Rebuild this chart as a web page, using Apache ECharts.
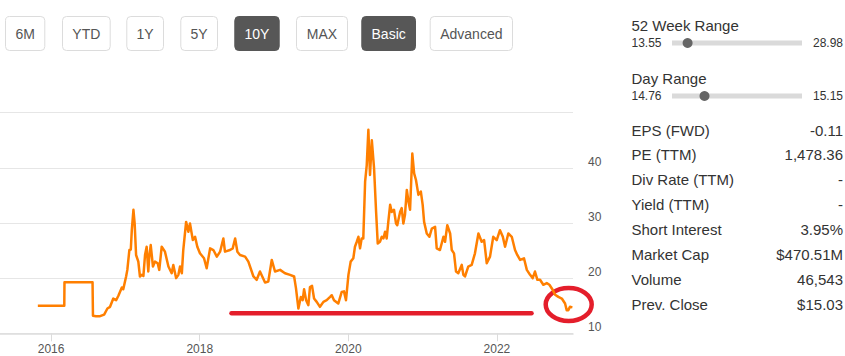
<!DOCTYPE html>
<html>
<head>
<meta charset="utf-8">
<script src="https://cdn.jsdelivr.net/npm/echarts@6/dist/echarts.min.js"></script>
<style>
html,body{margin:0;padding:0;background:#fff;}
#chart{width:845px;height:356px;}
</style>
</head>
<body>
<div id="chart"></div>
<script>
// ---------- data ----------
const dates = [
'2015-10-28','2016-03-06','2016-03-07','2016-07-23','2016-07-25','2016-08-09','2016-08-29','2016-09-18','2016-10-04','2016-10-17',
'2016-11-02','2016-11-16','2016-11-27','2016-12-14','2016-12-21','2017-01-04','2017-01-10','2017-01-20','2017-01-27','2017-02-01',
'2017-02-09','2017-02-15','2017-02-22','2017-03-05','2017-03-13','2017-03-22','2017-03-30','2017-04-07','2017-04-15','2017-04-23',
'2017-04-28','2017-05-05','2017-05-16','2017-05-26','2017-06-08','2017-06-16','2017-06-28','2017-07-14','2017-07-31','2017-08-16',
'2017-08-24','2017-09-07','2017-09-18','2017-09-26','2017-10-05','2017-10-12','2017-10-26','2017-11-06','2017-11-14','2017-11-28',
'2017-12-09','2017-12-20','2018-01-02','2018-01-22','2018-02-04','2018-02-21','2018-03-09','2018-03-26','2018-04-11','2018-04-27',
'2018-05-05','2018-05-30','2018-06-12','2018-06-24','2018-07-05','2018-07-18','2018-08-12','2018-08-28','2018-09-22','2018-10-08',
'2018-10-24','2018-11-18','2018-12-04','2018-12-21','2019-01-06','2019-01-31','2019-02-24','2019-03-21','2019-04-10','2019-04-19',
'2019-05-01','2019-05-13','2019-05-22','2019-05-29','2019-06-08','2019-06-19','2019-06-27','2019-07-07','2019-07-17','2019-07-30',
'2019-08-15','2019-09-01','2019-09-17','2019-10-04','2019-10-12','2019-10-23','2019-11-13','2019-11-30','2019-12-11','2019-12-21',
'2020-01-02','2020-01-13','2020-01-26','2020-02-03','2020-02-12','2020-02-20','2020-02-28','2020-03-07','2020-03-15','2020-03-24',
'2020-04-01','2020-04-09','2020-04-17','2020-04-26','2020-05-07','2020-05-17','2020-05-25','2020-06-05','2020-06-14','2020-06-22',
'2020-06-30','2020-07-08','2020-07-16','2020-07-25','2020-08-02','2020-08-13','2020-08-23','2020-08-29','2020-09-12','2020-09-20',
'2020-09-28','2020-10-06','2020-10-15','2020-10-23','2020-10-31','2020-11-11','2020-11-20','2020-11-29','2020-12-11','2020-12-23',
'2021-01-01','2021-01-08','2021-01-21','2021-02-03','2021-02-15','2021-03-03','2021-03-11','2021-03-27','2021-04-13','2021-04-21',
'2021-05-02','2021-05-16','2021-05-24','2021-06-04','2021-06-14','2021-06-25','2021-07-12','2021-07-20','2021-07-28','2021-08-13',
'2021-08-30','2021-09-15','2021-10-02','2021-10-18','2021-10-30','2021-11-12','2021-11-28','2021-12-14','2021-12-31','2022-01-16',
'2022-01-30','2022-02-10','2022-02-26','2022-03-15','2022-03-31','2022-04-11','2022-04-25','2022-05-14','2022-05-28','2022-06-13',
'2022-06-26','2022-07-07','2022-07-19','2022-08-01','2022-08-17','2022-09-03','2022-09-16','2022-10-02','2022-10-14','2022-10-30',
'2022-11-16','2022-12-02','2022-12-10','2022-12-18','2022-12-26','2023-01-07'
];
const prices = [
15.0,15.0,19.25,19.25,13.2,13.1,13.1,13.4,14.5,14.8,
16.3,16.0,16.8,18.3,18.0,20.3,21.5,25.1,25.2,28.7,
32.4,29.9,24.2,23.0,20.3,20.6,20.4,24.2,25.7,21.2,
23.9,26.0,22.1,23.0,22.7,21.5,25.7,24.8,22.1,20.9,
22.4,20.0,20.6,22.1,20.9,25.1,30.2,28.4,29.9,26.9,
27.5,25.7,24.5,23.6,21.8,25.4,25.1,23.9,24.8,27.2,
24.8,25.1,25.4,27.2,24.8,24.2,23.9,23.0,20.3,19.7,
21.2,19.2,19.4,23.3,21.2,21.5,20.9,20.6,20.3,18.2,
14.5,16.6,16.0,18.0,16.0,15.1,18.4,18.6,16.3,15.7,
14.8,15.7,16.0,16.6,16.9,16.0,15.4,17.5,17.6,16.0,
20.6,23.0,23.6,25.7,26.6,27.5,25.4,27.2,27.2,37.5,
40.5,46.9,38.7,45.0,39.9,32.0,26.3,26.6,27.5,27.2,
28.4,27.2,30.2,33.3,32.0,32.4,29.9,29.6,32.0,32.7,
29.9,31.5,36.0,33.9,32.4,42.6,39.0,37.8,35.1,35.7,
33.3,30.2,28.1,27.5,29.0,29.3,25.4,25.1,27.5,26.6,
29.6,28.1,25.1,24.5,21.2,20.9,22.4,20.6,20.3,22.1,
22.4,24.5,28.1,26.6,26.9,22.7,23.9,27.5,26.9,28.7,
27.5,25.7,28.1,27.5,25.1,24.2,23.3,23.6,21.5,20.6,
20.0,21.2,19.7,19.7,18.8,19.1,18.8,17.9,17.0,16.6,
16.3,15.4,14.2,14.2,14.8,14.7
];
const xTickYears = [2016, 2018, 2020, 2022];
const xRange = ['2015-04-25', '2023-01-10'];
const yTicks = [10, 20, 30, 40, 50];

const buttonLabels = ['6M','YTD','1Y','5Y','10Y','MAX','Basic','Advanced'];
const activeButtons = ['10Y','Basic'];

const rangeTitles = ['52 Week Range','Day Range'];
const rangeLows = ['13.55','14.76'];
const rangeHighs = ['28.98','15.15'];
const rangeKnobFractions = [0.12, 0.25];

const statLabels = ['EPS (FWD)','PE (TTM)','Div Rate (TTM)','Yield (TTM)','Short Interest','Market Cap','Volume','Prev. Close'];
const statValues = ['-0.11','1,478.36','-','-','3.95%','$470.51M','46,543','$15.03'];

// ---------- helpers ----------
function ts(s) { const p = s.split('-').map(Number); return Date.UTC(p[0], p[1] - 1, p[2]); }

// ---------- layout ----------
const FONT = '"Liberation Sans", Arial, sans-serif';
const btnX = [5, 62, 126.3, 180.3, 234.3, 296, 361.3, 429.7];
const btnW = [39.3, 47.7, 36.7, 36.7, 44.4, 51, 53.7, 82.3];

const graphics = [];
buttonLabels.forEach((lab, i) => {
  const active = activeButtons.includes(lab);
  graphics.push({
    type: 'rect', shape: {x: btnX[i] + 0.5, y: 16.5, width: btnW[i], height: 34, r: 4},
    style: {fill: active ? '#575757' : '#fff', stroke: active ? '#575757' : '#dcdcdc', lineWidth: 1}
  });
  graphics.push({
    type: 'text',
    style: {text: lab, x: btnX[i] + btnW[i] / 2 + 0.5, y: 33.5, align: 'center', verticalAlign: 'middle',
      font: '14px ' + FONT, fill: active ? '#fff' : '#555'}
  });
});

const panelL = 631.5, panelR = 843, barL = 672, barR = 802;
rangeTitles.forEach((t, i) => {
  const ty = i === 0 ? 25 : 78.5;
  const vy = i === 0 ? 43 : 96;
  graphics.push({type: 'text', style: {text: t, x: panelL, y: ty, verticalAlign: 'middle', font: '15px ' + FONT, fill: '#333'}});
  graphics.push({type: 'text', style: {text: rangeLows[i], x: panelL, y: vy, verticalAlign: 'middle', font: '12px ' + FONT, fill: '#333'}});
  graphics.push({type: 'text', style: {text: rangeHighs[i], x: panelR, y: vy, align: 'right', verticalAlign: 'middle', font: '12px ' + FONT, fill: '#333'}});
  graphics.push({type: 'rect', shape: {x: barL, y: vy - 2.5, width: barR - barL, height: 5}, style: {fill: '#dadada'}});
  graphics.push({type: 'circle', shape: {cx: barL + (barR - barL) * rangeKnobFractions[i], cy: vy, r: 5}, style: {fill: '#666'}});
});
statLabels.forEach((s, i) => {
  const y = 130 + i * 24.9;
  graphics.push({type: 'text', style: {text: s, x: panelL, y: y, verticalAlign: 'middle', font: '15px ' + FONT, fill: '#333'}});
  graphics.push({type: 'text', style: {text: statValues[i], x: panelR, y: y, align: 'right', verticalAlign: 'middle', font: '15px ' + FONT, fill: '#333'}});
});

// hand-drawn red annotations
graphics.push({type: 'line', shape: {x1: 231.5, y1: 313.3, x2: 531.5, y2: 313.3},
  style: {stroke: '#e41e2b', lineWidth: 4.5, lineCap: 'round'}});
graphics.push({type: 'ellipse', shape: {cx: 568.7, cy: 304.5, rx: 23, ry: 16.5},
  style: {fill: 'none', stroke: '#e41e2b', lineWidth: 4.5}});

const chart = echarts.init(document.getElementById('chart'), null, {renderer: 'svg'});
const seriesData = dates.map((d, i) => [ts(d), prices[i]]);
const yearTs = xTickYears.map(y => Date.UTC(y, 0, 1));

chart.setOption({
  animation: false,
  backgroundColor: '#fff',
  textStyle: {fontFamily: FONT},
  grid: {left: 0, top: 112.7, right: 272, bottom: 22.7, containLabel: false, outerBoundsMode: 'none'},
  xAxis: {
    type: 'value',
    min: ts(xRange[0]), max: ts(xRange[1]),
    axisLine: {show: true, lineStyle: {color: '#dcdcdc', width: 1.5}},
    axisTick: {show: true, customValues: yearTs, length: 8, lineStyle: {color: '#dcdcdc'}},
    axisLabel: {customValues: yearTs, formatter: v => String(new Date(v).getUTCFullYear()),
      color: '#555', fontSize: 12, margin: 10, fontFamily: FONT},
    splitLine: {show: false}
  },
  yAxis: {
    type: 'value', position: 'right',
    min: yTicks[0], max: yTicks[yTicks.length - 1], interval: 10,
    axisLine: {show: false}, axisTick: {show: false},
    axisLabel: {formatter: v => (v === yTicks[yTicks.length - 1] ? '' : String(v)),
      color: '#555', fontSize: 12, margin: 15, align: 'left', verticalAlign: 'bottom', fontFamily: FONT},
    splitLine: {show: true, lineStyle: {color: '#e6e6e6', width: 1}}
  },
  series: [{
    type: 'line', data: seriesData, showSymbol: false, symbol: 'none',
    lineStyle: {color: '#ff7f00', width: 2.5, join: 'round'}, itemStyle: {color: '#ff7f00'}
  }],
  graphic: graphics
});
</script>
</body>
</html>
